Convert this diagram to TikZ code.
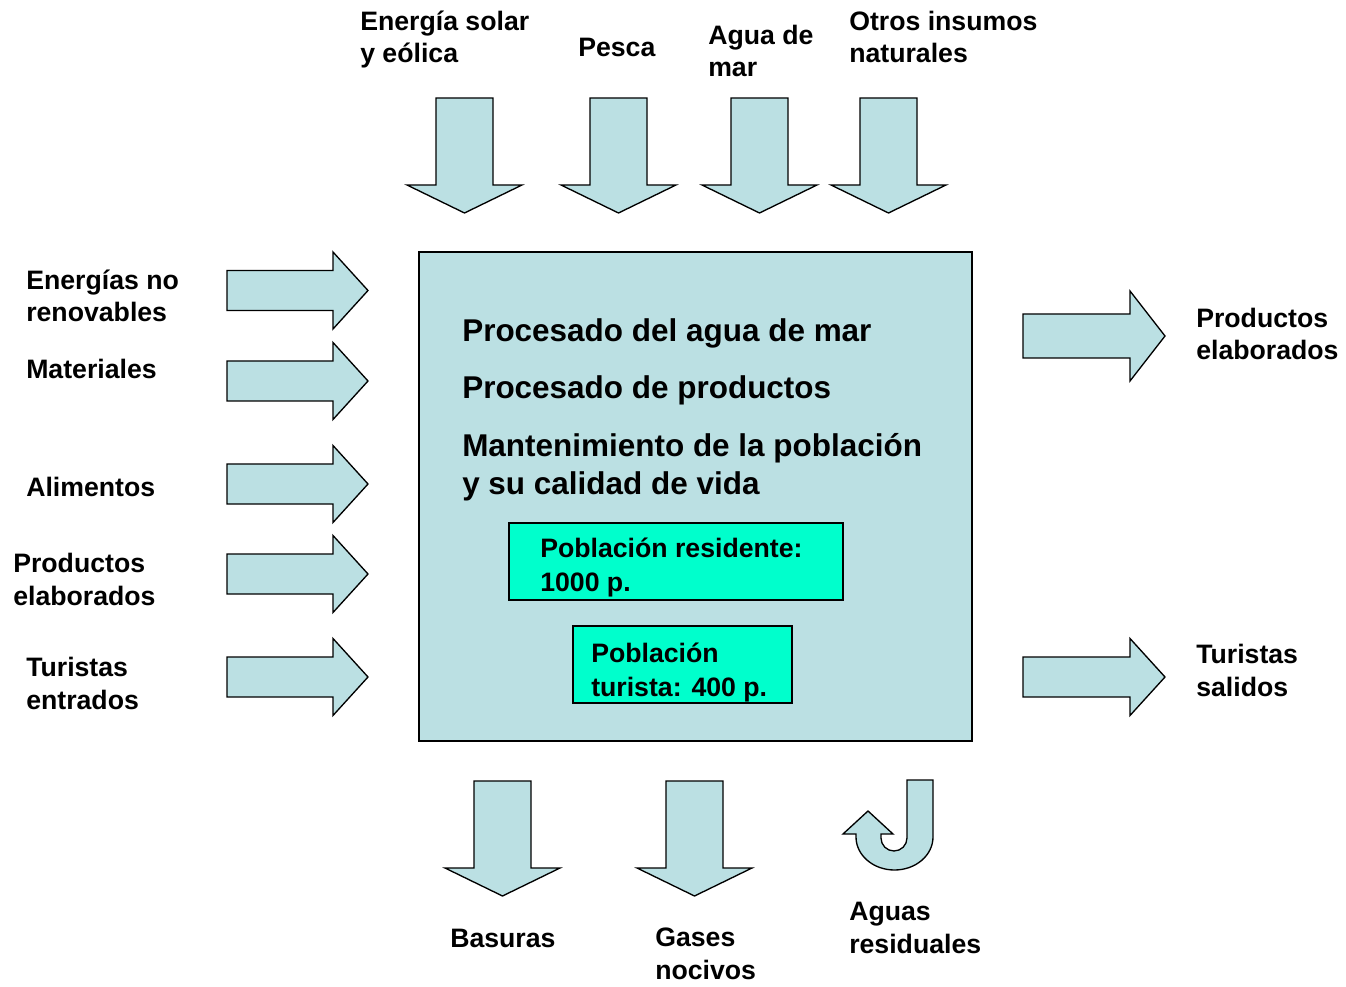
\documentclass[tikz,border=0pt]{standalone}
\usepackage{fontspec}
\setmainfont{Liberation Sans}
\definecolor{lightfill}{HTML}{BBE0E3}
\definecolor{aquafill}{HTML}{00FFCC}
\newcommand\blkdown[2]{\draw[blk] ({#1-28.5},#2) -- ({#1+28.5},#2) -- ({#1+28.5},{#2+87}) -- ({#1+57.5},{#2+87}) -- (#1,{#2+115}) -- ({#1-57.5},{#2+87}) -- ({#1-28.5},{#2+87}) -- cycle;}
\newcommand\blkright[5]{\draw[blk] (#1,{#2-#4}) -- ({#1+#3},{#2-#4}) -- ({#1+#3},{#2-#5}) -- ({#1+#3+35},#2) -- ({#1+#3},{#2+#5}) -- ({#1+#3},{#2+#4}) -- (#1,{#2+#4}) -- cycle;}
\begin{document}
\begin{tikzpicture}[x=0.75pt,y=-0.75pt,
  blk/.style={draw=black,fill=lightfill,line width=1pt,line join=miter},
  lbl/.style={anchor=base west,inner sep=0pt,align=left,font=\fontsize{20}{24.5}\selectfont\bfseries},
  mainlbl/.style={anchor=base west,inner sep=0pt,align=left,font=\fontsize{23.6}{28.5}\selectfont\bfseries},
  innerlbl/.style={anchor=base west,inner sep=0pt,align=left,font=\fontsize{20}{25.5}\selectfont\bfseries}]
\useasboundingbox (0,0) rectangle (1346,987);
% main box
\draw[blk] (419,252) rectangle (972,741);
\node[mainlbl] (t1) at (462,342) {Procesado del agua de mar};
\node[mainlbl] (t2) at (462,399) {Procesado de productos};
\node[mainlbl] (t3) at (462,494) {Mantenimiento de la población\\y su calidad de vida};
% inner boxes
\draw[draw=black,fill=aquafill,line width=1pt] (509,523) rectangle (843,600);
\node[innerlbl] (res) at (540,591) {Población residente:\\1000 p.};
\draw[draw=black,fill=aquafill,line width=1pt] (573,626) rectangle (792,703);
\node[innerlbl] (tur) at (591,696) {Población\\turista: 400 p.};
% top arrows
\blkdown{464.5}{98}
\blkdown{618.5}{98}
\blkdown{759.5}{98}
\blkdown{888.5}{98}
% bottom arrows
\blkdown{502.5}{781}
\blkdown{694.5}{781}
% left arrows
\blkright{227}{290.5}{106}{20}{38.5}
\blkright{227}{381}{106}{20}{38.5}
\blkright{227}{484}{106}{20}{38.5}
\blkright{227}{574}{106}{20}{38.5}
\blkright{227}{677}{106}{20}{38.5}
% right arrows
\blkright{1023}{336}{107}{22}{45}
\blkright{1023}{677}{107}{20}{38.5}
% U-turn arrow
\draw[blk] (907,780) -- (933,780) -- (933,837)
  arc[start angle=0,end angle=180,x radius=38.5,y radius=33]
  -- (856,834) -- (843,834) -- (868,811) -- (893,834) -- (881,834) -- (881,838)
  arc[start angle=180,end angle=0,radius=13] -- cycle;
% labels
\node[lbl] (l1) at (360,63) {Energía solar\\y eólica};
\node[lbl] (l2) at (578,57) {Pesca};
\node[lbl] (l3) at (708,77) {Agua de\\mar};
\node[lbl] (l4) at (849,63) {Otros insumos\\naturales};
\node[lbl] (w1) at (26,322) {Energías no\\renovables};
\node[lbl] (w2) at (26,379) {Materiales};
\node[lbl] (w3) at (26,496) {Alimentos};
\node[lbl] (w4) at (13,605) {Productos\\elaborados};
\node[lbl] (w5) at (26,709) {Turistas\\entrados};
\node[lbl] (e1) at (1196,360) {Productos\\elaborados};
\node[lbl] (e2) at (1196,696) {Turistas\\salidos};
\node[lbl] (b1) at (450,947) {Basuras};
\node[lbl] (b2) at (655,979) {Gases\\nocivos};
\node[lbl] (b3) at (849,953) {Aguas\\residuales};
\end{tikzpicture}
\end{document}
